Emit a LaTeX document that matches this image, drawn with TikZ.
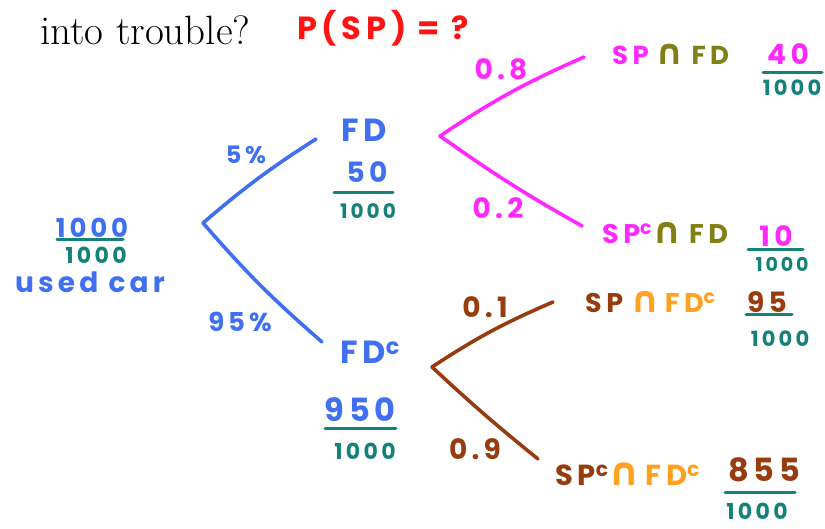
\documentclass[tikz,border=0pt]{standalone}
\usepackage{graphicx}
\usepackage{fontspec}
\newfontfamily\hand[LetterSpace=15]{Poppins}
\newfontfamily\symf{DejaVu Sans}
\newcommand{\capsym}{{\symf\bfseries\scalebox{1.35}{∩}}}
\definecolor{hblue}{RGB}{64,112,240}
\definecolor{hteal}{RGB}{20,130,120}
\definecolor{hmag}{RGB}{255,40,255}
\definecolor{holive}{RGB}{130,128,20}
\definecolor{hbrown}{RGB}{150,60,15}
\definecolor{horange}{RGB}{255,160,30}
\definecolor{hred}{RGB}{255,20,20}
\begin{document}
\begin{tikzpicture}[x=1pt,y=-1pt,
  hw/.style={font=\hand\bfseries\fontsize{#1}{#1}\selectfont, inner sep=0pt},
  pen/.style={line width=3.6pt, line cap=round, line join=round},
  tbar/.style={pen, draw=hteal, line width=3pt}]
\useasboundingbox (0,0) rectangle (825,529);

% title texts
\node[font=\fontsize{41}{44}\selectfont, anchor=base west, inner sep=0pt] (title) at (40,45) {into trouble?};
\node[hw=32, text=hred] (q) at (383,28) {P(SP) = ?};

% root
\node[hw=26, text=hblue] (rn) at (92,228) {1000};
\coordinate (rb1) at (57,240); \coordinate (rb2) at (123,240);
\draw[tbar] (rb1) -- (rb2);
\node[hw=22, text=hteal] (rd) at (96,255) {1000};
\node[hw=28, text=hblue] (used) at (90,282) {used car};

% first level
\coordinate (r) at (203,223);
\coordinate (fdU) at (316,139);
\coordinate (fdL) at (322,342);
\draw[pen, hblue] (r) to[bend left=4] (fdU);
\draw[pen, hblue] (r) to[bend right=4] (fdL);
\node[hw=24, text=hblue] (p5) at (246,155) {5\%};
\node[hw=26, text=hblue] (p95) at (240,322) {95\%};

\node[hw=32, text=hblue] (fd) at (364,130) {FD};
\node[hw=28, text=hblue] (fdn) at (367,172) {50};
\coordinate (fb1) at (334,193); \coordinate (fb2) at (393,193);
\draw[tbar] (fb1) -- (fb2);
\node[hw=20, text=hteal] (fdd) at (368,211) {1000};

\node[hw=32, text=hblue] (fdc) at (370,352) {FD\textsuperscript{c}};
\node[hw=32, text=hblue] (fdcn) at (360,410) {950};
\coordinate (gb1) at (325,428); \coordinate (gb2) at (396,428);
\draw[tbar] (gb1) -- (gb2);
\node[hw=22, text=hteal] (fdcd) at (365,451) {1000};

% second level, upper
\coordinate (m) at (440,136);
\coordinate (mU) at (584,57);
\coordinate (mL) at (582,226);
\draw[pen, hmag] (m) to[bend left=5] (mU);
\draw[pen, hmag] (m) to[bend right=3] (mL);
\node[hw=28, text=hmag] (p08) at (501,69) {0.8};
\node[hw=28, text=hmag] (p02) at (498,208) {0.2};

\node[hw=26, anchor=west] (e1) at (612,54) {\textcolor{hmag}{S\,P}\;\textcolor{holive}{\capsym\;F\,D}};
\node[hw=28, text=hmag] (e1n) at (788,54) {4\,0};
\coordinate (e1b1) at (763,73); \coordinate (e1b2) at (822,73);
\draw[tbar] (e1b1) -- (e1b2);
\node[hw=21, text=hteal] (e1d) at (792,88) {1000};

\node[hw=27, anchor=west] (e2) at (602,233) {\textcolor{hmag}{S\,P\textsuperscript{c}}\textcolor{holive}{\capsym\;F\,D}};
\node[hw=28, text=hmag] (e2n) at (776,236) {1\,0};
\coordinate (e2b1) at (748,250); \coordinate (e2b2) at (803,250);
\draw[tbar] (e2b1) -- (e2b2);
\node[hw=19, text=hteal] (e2d) at (782,264) {1000};

% second level, lower
\coordinate (b) at (432,367);
\coordinate (bU) at (553,302);
\coordinate (bL) at (538,459);
\draw[pen, hbrown] (b) to[bend left=5] (bU);
\draw[pen, hbrown] (b) to[bend right=2] (bL);
\node[hw=28, text=hbrown] (p01) at (485,307) {0.1};
\node[hw=28, text=hbrown] (p09) at (475,449) {0.9};

\node[hw=27, anchor=west] (e3) at (585,302) {\textcolor{hbrown}{S\,P}\;\textcolor{horange}{\capsym\,F\,D\textsuperscript{c}}};
\node[hw=28, text=hbrown] (e3n) at (767,302) {95};
\coordinate (e3b1) at (746,315); \coordinate (e3b2) at (792,315);
\draw[tbar] (e3b1) -- (e3b2);
\node[hw=21, text=hteal] (e3d) at (780,339) {1000};

\node[hw=29, anchor=west] (e4) at (555,474) {\textcolor{hbrown}{S\,P\textsuperscript{c}}\textcolor{horange}{\capsym\,F\,D\textsuperscript{c}}};
\node[hw=32, text=hbrown] (e4n) at (764,470) {855};
\coordinate (e4b1) at (725,492); \coordinate (e4b2) at (795,492);
\draw[tbar] (e4b1) -- (e4b2);
\node[hw=22, text=hteal] (e4d) at (757,511) {1000};
\end{tikzpicture}
\end{document}
